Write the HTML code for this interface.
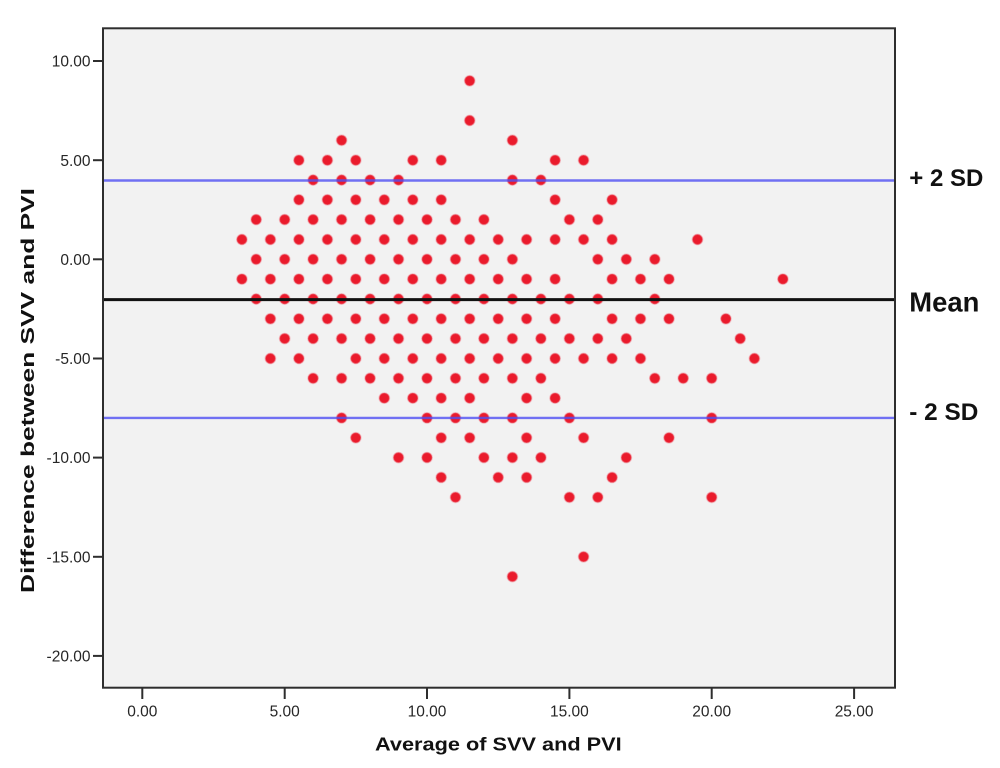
<!DOCTYPE html>
<html><head><meta charset="utf-8"><style>
html,body{margin:0;padding:0;background:#fff;width:1000px;height:768px;overflow:hidden}
svg{display:block}
</style></head><body>
<svg width="1000" height="768" viewBox="0 0 1000 768" xmlns="http://www.w3.org/2000/svg">
<rect x="0" y="0" width="1000" height="768" fill="#ffffff"/>
<rect x="103" y="28.3" width="792" height="659.4" fill="#f2f2f2"/>
<g fill="#ea1b2c" stroke="#f08a94" stroke-opacity="0.45" stroke-width="1.4">
<!-- y=9 -->
<circle cx="469.7" cy="80.8" r="5.2"/>
<!-- y=7 -->
<circle cx="469.7" cy="120.5" r="5.2"/>
<!-- y=6 -->
<circle cx="341.6" cy="140.3" r="5.2"/><circle cx="512.4" cy="140.3" r="5.2"/>
<!-- y=5 -->
<circle cx="298.9" cy="160.2" r="5.2"/><circle cx="327.4" cy="160.2" r="5.2"/><circle cx="355.8" cy="160.2" r="5.2"/><circle cx="412.8" cy="160.2" r="5.2"/><circle cx="441.2" cy="160.2" r="5.2"/><circle cx="555.1" cy="160.2" r="5.2"/><circle cx="583.6" cy="160.2" r="5.2"/>
<!-- y=4 -->
<circle cx="313.1" cy="180" r="5.2"/><circle cx="341.6" cy="180" r="5.2"/><circle cx="370.1" cy="180" r="5.2"/><circle cx="398.5" cy="180" r="5.2"/><circle cx="512.4" cy="180" r="5.2"/><circle cx="540.9" cy="180" r="5.2"/>
<!-- y=3 -->
<circle cx="298.9" cy="199.8" r="5.2"/><circle cx="327.4" cy="199.8" r="5.2"/><circle cx="355.8" cy="199.8" r="5.2"/><circle cx="384.3" cy="199.8" r="5.2"/><circle cx="412.8" cy="199.8" r="5.2"/><circle cx="441.2" cy="199.8" r="5.2"/><circle cx="555.1" cy="199.8" r="5.2"/><circle cx="612.1" cy="199.8" r="5.2"/>
<!-- y=2 -->
<circle cx="256.2" cy="219.6" r="5.2"/><circle cx="284.7" cy="219.6" r="5.2"/><circle cx="313.1" cy="219.6" r="5.2"/><circle cx="341.6" cy="219.6" r="5.2"/><circle cx="370.1" cy="219.6" r="5.2"/><circle cx="398.5" cy="219.6" r="5.2"/><circle cx="427" cy="219.6" r="5.2"/><circle cx="455.5" cy="219.6" r="5.2"/><circle cx="483.9" cy="219.6" r="5.2"/><circle cx="569.4" cy="219.6" r="5.2"/><circle cx="597.8" cy="219.6" r="5.2"/>
<!-- y=1 -->
<circle cx="241.9" cy="239.5" r="5.2"/><circle cx="270.4" cy="239.5" r="5.2"/><circle cx="298.9" cy="239.5" r="5.2"/><circle cx="327.4" cy="239.5" r="5.2"/><circle cx="355.8" cy="239.5" r="5.2"/><circle cx="384.3" cy="239.5" r="5.2"/><circle cx="412.8" cy="239.5" r="5.2"/><circle cx="441.2" cy="239.5" r="5.2"/><circle cx="469.7" cy="239.5" r="5.2"/><circle cx="498.2" cy="239.5" r="5.2"/><circle cx="526.6" cy="239.5" r="5.2"/><circle cx="555.1" cy="239.5" r="5.2"/><circle cx="583.6" cy="239.5" r="5.2"/><circle cx="612.1" cy="239.5" r="5.2"/><circle cx="697.5" cy="239.5" r="5.2"/>
<!-- y=0 -->
<circle cx="256.2" cy="259.3" r="5.2"/><circle cx="284.7" cy="259.3" r="5.2"/><circle cx="313.1" cy="259.3" r="5.2"/><circle cx="341.6" cy="259.3" r="5.2"/><circle cx="370.1" cy="259.3" r="5.2"/><circle cx="398.5" cy="259.3" r="5.2"/><circle cx="427" cy="259.3" r="5.2"/><circle cx="455.5" cy="259.3" r="5.2"/><circle cx="483.9" cy="259.3" r="5.2"/><circle cx="512.4" cy="259.3" r="5.2"/><circle cx="597.8" cy="259.3" r="5.2"/><circle cx="626.3" cy="259.3" r="5.2"/><circle cx="654.8" cy="259.3" r="5.2"/>
<!-- y=-1 -->
<circle cx="241.9" cy="279.1" r="5.2"/><circle cx="270.4" cy="279.1" r="5.2"/><circle cx="298.9" cy="279.1" r="5.2"/><circle cx="327.4" cy="279.1" r="5.2"/><circle cx="355.8" cy="279.1" r="5.2"/><circle cx="384.3" cy="279.1" r="5.2"/><circle cx="412.8" cy="279.1" r="5.2"/><circle cx="441.2" cy="279.1" r="5.2"/><circle cx="469.7" cy="279.1" r="5.2"/><circle cx="498.2" cy="279.1" r="5.2"/><circle cx="526.6" cy="279.1" r="5.2"/><circle cx="555.1" cy="279.1" r="5.2"/><circle cx="612.1" cy="279.1" r="5.2"/><circle cx="640.5" cy="279.1" r="5.2"/><circle cx="669" cy="279.1" r="5.2"/><circle cx="782.9" cy="279.1" r="5.2"/>
<!-- y=-2 -->
<circle cx="256.2" cy="299" r="5.2"/><circle cx="284.7" cy="299" r="5.2"/><circle cx="313.1" cy="299" r="5.2"/><circle cx="341.6" cy="299" r="5.2"/><circle cx="370.1" cy="299" r="5.2"/><circle cx="398.5" cy="299" r="5.2"/><circle cx="427" cy="299" r="5.2"/><circle cx="455.5" cy="299" r="5.2"/><circle cx="483.9" cy="299" r="5.2"/><circle cx="512.4" cy="299" r="5.2"/><circle cx="540.9" cy="299" r="5.2"/><circle cx="569.4" cy="299" r="5.2"/><circle cx="597.8" cy="299" r="5.2"/><circle cx="654.8" cy="299" r="5.2"/>
<!-- y=-3 -->
<circle cx="270.4" cy="318.8" r="5.2"/><circle cx="298.9" cy="318.8" r="5.2"/><circle cx="327.4" cy="318.8" r="5.2"/><circle cx="355.8" cy="318.8" r="5.2"/><circle cx="384.3" cy="318.8" r="5.2"/><circle cx="412.8" cy="318.8" r="5.2"/><circle cx="441.2" cy="318.8" r="5.2"/><circle cx="469.7" cy="318.8" r="5.2"/><circle cx="498.2" cy="318.8" r="5.2"/><circle cx="526.6" cy="318.8" r="5.2"/><circle cx="555.1" cy="318.8" r="5.2"/><circle cx="612.1" cy="318.8" r="5.2"/><circle cx="640.5" cy="318.8" r="5.2"/><circle cx="669" cy="318.8" r="5.2"/><circle cx="725.9" cy="318.8" r="5.2"/>
<!-- y=-4 -->
<circle cx="284.7" cy="338.6" r="5.2"/><circle cx="313.1" cy="338.6" r="5.2"/><circle cx="341.6" cy="338.6" r="5.2"/><circle cx="370.1" cy="338.6" r="5.2"/><circle cx="398.5" cy="338.6" r="5.2"/><circle cx="427" cy="338.6" r="5.2"/><circle cx="455.5" cy="338.6" r="5.2"/><circle cx="483.9" cy="338.6" r="5.2"/><circle cx="512.4" cy="338.6" r="5.2"/><circle cx="540.9" cy="338.6" r="5.2"/><circle cx="569.4" cy="338.6" r="5.2"/><circle cx="597.8" cy="338.6" r="5.2"/><circle cx="626.3" cy="338.6" r="5.2"/><circle cx="740.2" cy="338.6" r="5.2"/>
<!-- y=-5 -->
<circle cx="270.4" cy="358.5" r="5.2"/><circle cx="298.9" cy="358.5" r="5.2"/><circle cx="355.8" cy="358.5" r="5.2"/><circle cx="384.3" cy="358.5" r="5.2"/><circle cx="412.8" cy="358.5" r="5.2"/><circle cx="441.2" cy="358.5" r="5.2"/><circle cx="469.7" cy="358.5" r="5.2"/><circle cx="498.2" cy="358.5" r="5.2"/><circle cx="526.6" cy="358.5" r="5.2"/><circle cx="555.1" cy="358.5" r="5.2"/><circle cx="583.6" cy="358.5" r="5.2"/><circle cx="612.1" cy="358.5" r="5.2"/><circle cx="640.5" cy="358.5" r="5.2"/><circle cx="754.4" cy="358.5" r="5.2"/>
<!-- y=-6 -->
<circle cx="313.1" cy="378.3" r="5.2"/><circle cx="341.6" cy="378.3" r="5.2"/><circle cx="370.1" cy="378.3" r="5.2"/><circle cx="398.5" cy="378.3" r="5.2"/><circle cx="427" cy="378.3" r="5.2"/><circle cx="455.5" cy="378.3" r="5.2"/><circle cx="483.9" cy="378.3" r="5.2"/><circle cx="512.4" cy="378.3" r="5.2"/><circle cx="540.9" cy="378.3" r="5.2"/><circle cx="654.8" cy="378.3" r="5.2"/><circle cx="683.2" cy="378.3" r="5.2"/><circle cx="711.7" cy="378.3" r="5.2"/>
<!-- y=-7 -->
<circle cx="384.3" cy="398.1" r="5.2"/><circle cx="412.8" cy="398.1" r="5.2"/><circle cx="441.2" cy="398.1" r="5.2"/><circle cx="469.7" cy="398.1" r="5.2"/><circle cx="526.6" cy="398.1" r="5.2"/><circle cx="555.1" cy="398.1" r="5.2"/>
<!-- y=-8 -->
<circle cx="341.6" cy="417.9" r="5.2"/><circle cx="427" cy="417.9" r="5.2"/><circle cx="455.5" cy="417.9" r="5.2"/><circle cx="483.9" cy="417.9" r="5.2"/><circle cx="512.4" cy="417.9" r="5.2"/><circle cx="569.4" cy="417.9" r="5.2"/><circle cx="711.7" cy="417.9" r="5.2"/>
<!-- y=-9 -->
<circle cx="355.8" cy="437.8" r="5.2"/><circle cx="441.2" cy="437.8" r="5.2"/><circle cx="469.7" cy="437.8" r="5.2"/><circle cx="526.6" cy="437.8" r="5.2"/><circle cx="583.6" cy="437.8" r="5.2"/><circle cx="669" cy="437.8" r="5.2"/>
<!-- y=-10 -->
<circle cx="398.5" cy="457.6" r="5.2"/><circle cx="427" cy="457.6" r="5.2"/><circle cx="483.9" cy="457.6" r="5.2"/><circle cx="512.4" cy="457.6" r="5.2"/><circle cx="540.9" cy="457.6" r="5.2"/><circle cx="626.3" cy="457.6" r="5.2"/>
<!-- y=-11 -->
<circle cx="441.2" cy="477.4" r="5.2"/><circle cx="498.2" cy="477.4" r="5.2"/><circle cx="526.6" cy="477.4" r="5.2"/><circle cx="612.1" cy="477.4" r="5.2"/>
<!-- y=-12 -->
<circle cx="455.5" cy="497.3" r="5.2"/><circle cx="569.4" cy="497.3" r="5.2"/><circle cx="597.8" cy="497.3" r="5.2"/><circle cx="711.7" cy="497.3" r="5.2"/>
<!-- y=-15, -16 -->
<circle cx="583.6" cy="556.8" r="5.2"/>
<circle cx="512.4" cy="576.6" r="5.2"/>
</g>
<!-- reference lines -->
<line x1="104" y1="180.5" x2="894" y2="180.5" stroke="#4f4ff2" stroke-opacity="0.8" stroke-width="2.4"/>
<line x1="104" y1="417.9" x2="894" y2="417.9" stroke="#4f4ff2" stroke-opacity="0.8" stroke-width="2.4"/>
<line x1="104" y1="299.6" x2="894" y2="299.6" stroke="#111111" stroke-width="3"/>
<!-- frame -->
<rect x="103" y="28.3" width="792" height="659.4" fill="none" stroke="#2e2e2e" stroke-width="2"/>
<!-- y ticks -->
<g stroke="#2e2e2e" stroke-width="2">
<line x1="93" y1="61" x2="103" y2="61"/>
<line x1="93" y1="160.2" x2="103" y2="160.2"/>
<line x1="93" y1="259.3" x2="103" y2="259.3"/>
<line x1="93" y1="358.5" x2="103" y2="358.5"/>
<line x1="93" y1="457.6" x2="103" y2="457.6"/>
<line x1="93" y1="556.8" x2="103" y2="556.8"/>
<line x1="93" y1="655.9" x2="103" y2="655.9"/>
<line x1="142.3" y1="688" x2="142.3" y2="699"/>
<line x1="284.7" y1="688" x2="284.7" y2="699"/>
<line x1="427" y1="688" x2="427" y2="699"/>
<line x1="569.4" y1="688" x2="569.4" y2="699"/>
<line x1="711.7" y1="688" x2="711.7" y2="699"/>
<line x1="854.1" y1="688" x2="854.1" y2="699"/>
</g>
<g font-family="Liberation Sans, Arial, sans-serif" font-size="15.5" fill="#262626" text-anchor="end">
<text x="90.5" y="66.6">10.00</text>
<text x="90.5" y="165.8">5.00</text>
<text x="90.5" y="264.9">0.00</text>
<text x="90.5" y="364.1">-5.00</text>
<text x="90.5" y="463.2">-10.00</text>
<text x="90.5" y="562.4">-15.00</text>
<text x="90.5" y="661.5">-20.00</text>
</g>
<g font-family="Liberation Sans, Arial, sans-serif" font-size="15.5" fill="#262626" text-anchor="middle">
<text x="142.3" y="716.5">0.00</text>
<text x="284.7" y="716.5">5.00</text>
<text x="427" y="716.5">10.00</text>
<text x="569.4" y="716.5">15.00</text>
<text x="711.7" y="716.5">20.00</text>
<text x="854.1" y="716.5">25.00</text>
</g>
<text x="375" y="750.7" font-family="Liberation Sans, Arial, sans-serif" font-weight="bold" font-size="18.6" fill="#111" textLength="246.7" lengthAdjust="spacingAndGlyphs">Average of SVV and PVI</text>
<text transform="translate(33.8,593) rotate(-90)" x="0" y="0" font-family="Liberation Sans, Arial, sans-serif" font-weight="bold" font-size="18.6" fill="#111" textLength="405" lengthAdjust="spacingAndGlyphs">Difference between SVV and PVI</text>
<g font-family="Liberation Sans, Arial, sans-serif" font-weight="bold" fill="#111">
<text x="909.3" y="186" font-size="24.5" textLength="74" lengthAdjust="spacingAndGlyphs">+ 2 SD</text>
<text x="909.3" y="311.7" font-size="28" textLength="70" lengthAdjust="spacingAndGlyphs">Mean</text>
<text x="909.3" y="420" font-size="24" textLength="69" lengthAdjust="spacingAndGlyphs">- 2 SD</text>
</g>
</svg>
</body></html>
